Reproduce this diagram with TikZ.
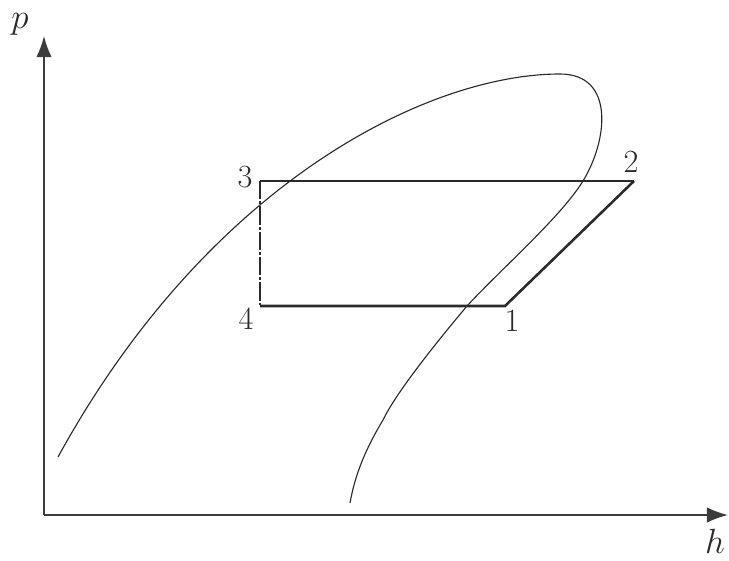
\documentclass[tikz,border=0pt]{standalone}
\usepackage{xcolor}
\usepackage{tikz}
\usetikzlibrary{positioning,arrows.meta,calc}
\definecolor{inkgrey}{HTML}{2A2A2A}
\definecolor{axisgrey}{HTML}{3C3C3C}
\tikzset{
  axs/.style={-{Latex[length=15pt,width=11pt]}, line width=1.2pt, draw=axisgrey},
  dome/.style={line width=0.8pt, draw=inkgrey},
  cyc/.style={line width=1.8pt, draw=inkgrey, line join=miter},
  cycthin/.style={line width=1.3pt, draw=inkgrey},
  throttle/.style={line width=1.8pt, draw=inkgrey,
                   dash pattern=on 13pt off 1.5pt on 2pt off 1.5pt},
  stlbl/.style={font=\fontsize{23}{27}\selectfont, inner sep=1pt, text=inkgrey},
  axlbl/.style={font=\fontsize{24}{28}\selectfont, inner sep=1pt, text=inkgrey},
}
\begin{document}
\begin{tikzpicture}[x=0.025cm, y=-0.025cm]
  \useasboundingbox (0,0) rectangle (729,560);

  % axes
  \coordinate (o) at (44,515);
  \coordinate (ptip) at (44,36);
  \coordinate (htip) at (728,515);
  \draw[axs] (o) -- (ptip);
  \draw[axs] (o) -- (htip);
  \node[axlbl] (plbl) at (20,24) {$p$};
  \node[axlbl] (hlbl) at (715,541) {$h$};

  % saturation dome
  \coordinate (dl) at (58,457);
  \coordinate (dtop) at (560,74);
  \coordinate (dr) at (583,181);
  \coordinate (dm) at (467,306);
  \coordinate (dk) at (383,420);
  \coordinate (de) at (350,503);
  \draw[dome] (dl) .. controls (210,180) and (430,74) .. (dtop)
    .. controls (615,74) and (608,140) .. (dr)
    .. controls (560,218) and (500,270) .. (dm)
    .. controls (430,350) and (395,395) .. (dk)
    .. controls (365,450) and (355,475) .. (de);

  % cycle states
  \coordinate (s1) at (505,306);
  \coordinate (s2) at (634,181);
  \coordinate (s3) at (260,181);
  \coordinate (s4) at (260,306);

  \draw[cycthin] (s3) -- (s2);
  \draw[cyc] (s4) -- (s1) -- (s2);
  \draw[throttle] (s3) -- (s4);

  \node[stlbl] (l1) at (512,321) {1};
  \node[stlbl] (l2) at (631,162) {2};
  \node[stlbl] (l3) at (245,177) {3};
  \node[stlbl] (l4) at (246,319) {4};
\end{tikzpicture}
\end{document}
